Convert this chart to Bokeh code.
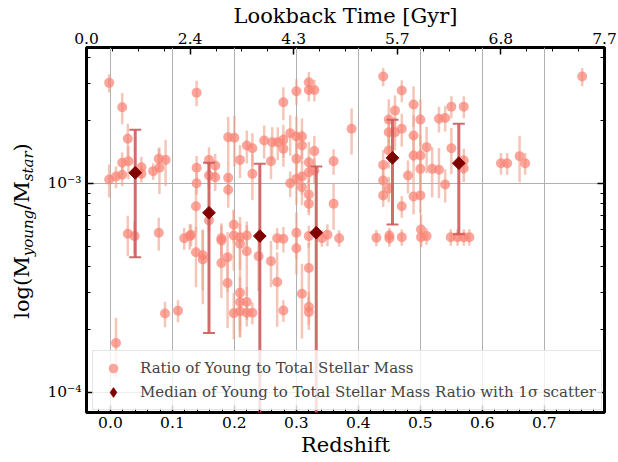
import numpy as np
from bokeh.plotting import figure
from bokeh.layouts import row
from bokeh.models import (Range1d, LinearAxis, LogAxis, FixedTicker, SingleIntervalTicker,
                          PrintfTickFormatter, CustomJSTickFormatter, ColumnDataSource, Legend,
                          LegendItem, Div)
from bokeh.embed import file_html
from bokeh.resources import INLINE

# ---------------- data ----------------
redshift = [-0.002, 0.019, 0.028, 0.019, 0.029, -0.002, 0.009, 0.019, 0.050, 0.050,
            0.069, 0.078, 0.079, 0.089, 0.139, 0.139, 0.139, 0.159, 0.159, 0.169,
            0.169, 0.190, 0.200, 0.190, 0.190, 0.209, 0.220, 0.229, 0.229, 0.248,
            0.261, 0.270, 0.279, 0.279, 0.279, 0.290, 0.290, 0.300, 0.300, 0.300,
            0.300, 0.309, 0.309, 0.309, 0.309, 0.320, 0.320, 0.329, 0.320, 0.320,
            0.320, 0.329, 0.329, 0.259, 0.360, 0.389, 0.440, 0.470, 0.459, 0.489,
            0.449, 0.500, 0.530, 0.540, 0.550, 0.570, 0.449, 0.459, 0.470, 0.489,
            0.449, 0.510, 0.550, 0.489, 0.500, 0.440, 0.480, 0.519, 0.530, 0.500,
            0.540, 0.570, 0.570, 0.440, 0.449, 0.440, 0.489, 0.500, 0.470, 0.630,
            0.640, 0.660, 0.669, 0.761,
            0.009, 0.028, 0.039, 0.078, 0.088, 0.109, 0.119, 0.128, 0.130, 0.138,
            0.138, 0.149, 0.149, 0.159, 0.179, 0.179, 0.179, 0.189, 0.189, 0.199,
            0.199, 0.199, 0.209, 0.209, 0.209, 0.209, 0.209, 0.220, 0.220, 0.220,
            0.220, 0.229, 0.239, 0.269, 0.279, 0.259, 0.269, 0.279, 0.300, 0.300,
            0.309, 0.320, 0.320, 0.320, 0.320, 0.320, 0.350, 0.341, 0.360, 0.369,
            0.429, 0.450, 0.450, 0.470, 0.501, 0.501, 0.510, 0.549, 0.560, 0.570,
            0.579]
log_ratio = [-2.518, -2.635, -2.786, -2.901, -2.893, -2.981, -2.967, -2.958, -2.922, -2.954,
             -2.941, -2.882, -2.925, -2.887, -2.565, -2.925, -2.999, -2.887, -2.962, -2.914,
             -2.970, -2.778, -2.781, -2.973, -3.030, -2.887, -2.818, -2.831, -2.954, -2.794,
             -2.802, -2.802, -2.611, -2.791, -2.834, -2.759, -2.999, -2.558, -2.775, -2.882,
             -2.978, -2.775, -2.818, -2.967, -3.018, -2.515, -2.552, -2.552, -2.898, -2.946,
             -3.053, -2.845, -2.938, -2.893, -2.893, -2.738, -2.488, -2.555, -2.651, -2.622,
             -2.694, -2.694, -2.690, -2.686, -2.632, -2.632, -2.755, -2.755, -2.738, -2.770,
             -2.842, -2.826, -2.831, -2.866, -2.866, -2.911, -2.962, -2.930, -2.934, -2.930,
             -3.005, -2.890, -2.927, -2.986, -3.025, -3.057, -3.062, -3.057, -3.109, -2.903,
             -2.903, -2.869, -2.903, -2.488,
             -3.764, -3.241, -3.252, -3.236, -3.623, -3.609, -3.262, -3.252, -3.245, -3.109,
             -3.329, -3.344, -3.364, -3.177, -3.262, -3.273, -3.381, -3.353, -3.477, -3.198,
             -3.249, -3.621, -3.257, -3.289, -3.523, -3.568, -3.612, -3.249, -3.325, -3.568,
             -3.619, -3.619, -3.348, -3.262, -3.265, -3.372, -3.472, -3.608, -3.236, -3.310,
             -3.528, -3.097, -3.405, -3.592, -3.616, -3.252, -3.245, -3.262, -3.097, -3.262,
             -3.260, -3.249, -3.262, -3.257, -3.220, -3.257, -3.252, -3.257, -3.257, -3.257,
             -3.257]
err_frac = [0.10, 0.17, 0.18, 0.12, 0.18, 0.18, 0.12, 0.12, 0.12, 0.09,
            0.09, 0.12, 0.25, 0.25, 0.14, 0.14, 0.12, 0.15, 0.14, 0.14,
            0.14, 0.25, 0.27, 0.18, 0.18, 0.18, 0.18, 0.18, 0.25, 0.18,
            0.18, 0.18, 0.18, 0.18, 0.18, 0.22, 0.14, 0.14, 0.25, 0.25,
            0.25, 0.22, 0.18, 0.18, 0.18, 0.12, 0.12, 0.12, 0.25, 0.18,
            0.18, 0.18, 0.14, 0.18, 0.14, 0.25, 0.10, 0.12, 0.18, 0.22,
            0.25, 0.25, 0.14, 0.14, 0.12, 0.12, 0.18, 0.18, 0.18, 0.25,
            0.18, 0.25, 0.25, 0.25, 0.25, 0.18, 0.18, 0.27, 0.27, 0.25,
            0.18, 0.14, 0.14, 0.18, 0.14, 0.12, 0.18, 0.18, 0.12, 0.12,
            0.12, 0.25, 0.12, 0.10,
            0.32, 0.22, 0.18, 0.18, 0.14, 0.12, 0.12, 0.14, 0.12, 0.25,
            0.32, 0.32, 0.39, 0.12, 0.18, 0.18, 0.32, 0.32, 0.39, 0.18,
            0.32, 0.25, 0.25, 0.25, 0.39, 0.32, 0.18, 0.12, 0.39, 0.18,
            0.14, 0.12, 0.32, 0.12, 0.14, 0.25, 0.39, 0.12, 0.25, 0.25,
            0.39, 0.12, 0.32, 0.18, 0.18, 0.12, 0.12, 0.09, 0.25, 0.09,
            0.09, 0.09, 0.09, 0.09, 0.18, 0.09, 0.09, 0.09, 0.09, 0.09,
            0.09]

median_z = [0.040, 0.159, 0.241, 0.332, 0.455, 0.562]
median_ratio = [1.125e-3, 7.24e-4, 5.60e-4, 5.81e-4, 1.327e-3, 1.251e-3]
median_sigma = [6.82e-4, 5.32e-4, 6.82e-4, 6.25e-4, 6.91e-4, 6.80e-4]

lookback_labels = ["0.0", "2.4", "4.3", "5.7", "6.8", "7.7"]
y_major = [1e-4, 1e-3]
y_minor = [2e-4, 3e-4, 4e-4, 5e-4, 6e-4, 7e-4, 8e-4, 9e-4, 2e-3, 3e-3, 4e-3]

# ---------------- layout constants ----------------
X0, X1 = -0.0386, 0.797
Y0, Y1 = 8.0e-5, 4.48e-3
W, H = 618, 462
LW = 44                      # strip holding the y-axis title
BL, BR, BT, BB = 40, 14, 47, 50
SERIF = "DejaVu Serif"
TICK_FS = "15.5px"
LABEL_FS = "21px"

ratio = 10 ** np.array(log_ratio)
ef = np.array(err_frac)
src = ColumnDataSource(dict(z=redshift, r=ratio, lo=ratio * (1 - ef), hi=ratio * (1 + ef)))

m = np.array(median_ratio)
s = np.array(median_sigma)
m_lo = np.where(m - s > 0, m - s, 1e-7)
m_hi = m + s
pos = (m - s) > 0
msrc = ColumnDataSource(dict(z=median_z, r=median_ratio, lo=m_lo, hi=m_hi))
capsrc = ColumnDataSource(dict(z=list(np.array(median_z)[pos]), lo=list(m_lo[pos])))

p = figure(width=W - LW, height=H, x_range=Range1d(X0, X1), y_range=Range1d(Y0, Y1),
           y_axis_type="log", output_backend="svg", toolbar_location=None,
           min_border_left=BL, min_border_right=BR, min_border_top=BT, min_border_bottom=BB,
           background_fill_color="white", border_fill_color="white")

# points with error bars
p.segment(x0="z", y0="lo", x1="z", y1="hi", source=src, line_color="#EE9F88",
          line_alpha=0.6, line_width=2.5)
pts = p.scatter("z", "r", source=src, marker="circle", size=10, fill_color="#FA8072",
                fill_alpha=0.7, line_color=None)

# medians
p.segment(x0="z", y0="lo", x1="z", y1="hi", source=msrc, line_color="#CD5C5C",
          line_alpha=0.9, line_width=3)
p.scatter("z", "hi", source=msrc, marker="dash", size=12, line_color="#CD5C5C",
          line_width=2, line_alpha=0.9)
p.scatter("z", "lo", source=capsrc, marker="dash", size=12, line_color="#CD5C5C",
          line_width=2, line_alpha=0.9)
p.scatter("z", "r", source=msrc, marker="square", angle=np.pi / 4, size=9,
          fill_color="#800000", line_color="#800000")
# legend proxy kept outside the visible range
proxy = p.scatter(x=[-10.0], y=[10.0], marker="diamond", size=12, fill_color="#800000",
                  line_color="#800000")

# bottom axis
xa = p.xaxis[0]
xa.ticker = SingleIntervalTicker(interval=0.1, num_minor_ticks=5)
xa.formatter = PrintfTickFormatter(format="%.1f")
xa.axis_label = "Redshift"

# left axis
sup_js = """
const sup = {"-":"\u207b","0":"\u2070","1":"\u00b9","2":"\u00b2","3":"\u00b3","4":"\u2074",
             "5":"\u2075","6":"\u2076","7":"\u2077","8":"\u2078","9":"\u2079"};
const e = Math.round(Math.log10(tick));
return "10" + String(e).split("").map(c => sup[c]).join("");
"""
ya = p.yaxis[0]
ya.ticker = FixedTicker(ticks=y_major, minor_ticks=y_minor)
ya.formatter = CustomJSTickFormatter(code=sup_js)
p.ygrid.ticker = FixedTicker(ticks=y_major)

# right axis (ticks only)
ra = LogAxis(ticker=FixedTicker(ticks=y_major, minor_ticks=y_minor),
             formatter=CustomJSTickFormatter(code="return '';"))
p.add_layout(ra, "right")

# top axis: lookback time
top_ticks = list(np.linspace(X0, X1, 6))
step = (X1 - X0) / 5 / 4
top_minor = [X0 + k * step for k in range(21) if k % 4 != 0]
ta = LinearAxis(ticker=FixedTicker(ticks=top_ticks, minor_ticks=top_minor),
                formatter=CustomJSTickFormatter(args=dict(tpos=top_ticks, tlab=lookback_labels), code="""
let best = 0, bd = Infinity;
for (let i = 0; i < tpos.length; i++) { const d = Math.abs(tpos[i] - tick); if (d < bd) { bd = d; best = i; } }
return tlab[best];
"""), axis_label="Lookback Time [Gyr]")
p.add_layout(ta, "above")

for ax in p.axis:
    ax.axis_line_color = None
    ax.major_tick_in = 7
    ax.major_tick_out = 0
    ax.minor_tick_in = 4
    ax.minor_tick_out = 0
    ax.major_tick_line_color = "black"
    ax.minor_tick_line_color = "black"
    ax.major_tick_line_width = 1.5
    ax.minor_tick_line_width = 1
    ax.major_label_text_font = SERIF
    ax.major_label_text_font_size = TICK_FS
    ax.major_label_text_color = "black"
    ax.major_label_standoff = 4
    ax.axis_label_text_font = SERIF
    ax.axis_label_text_font_size = LABEL_FS
    ax.axis_label_text_font_style = "normal"
    ax.axis_label_text_color = "black"
    ax.axis_label_standoff = 2
ra.major_label_text_font_size = "0px"
ra.major_label_standoff = 0
ya.major_label_standoff = 5

p.outline_line_color = "black"
p.outline_line_width = 3
p.outline_line_alpha = 1

p.xgrid.grid_line_color = "#b0b0b0"
p.xgrid.grid_line_width = 1
p.ygrid.grid_line_color = "#b0b0b0"
p.ygrid.grid_line_width = 1

legend = Legend(items=[LegendItem(label="Ratio of Young to Total Stellar Mass", renderers=[pts]),
                       LegendItem(label="Median of Young to Total Stellar Mass Ratio with 1σ scatter",
                                  renderers=[proxy])],
                location=(6, 2), glyph_width=30, glyph_height=24, label_standoff=12,
                padding=5, spacing=0, margin=0, label_text_font=SERIF, label_text_font_size="15px",
                border_line_color="#cccccc", border_line_width=1, background_fill_alpha=0.8)
p.add_layout(legend)

# ---------------- y-axis title (HTML text with real subscripts) ----------------
sub_style = "font-style:italic;font-size:15px;vertical-align:-0.3em;line-height:0;"
ylabel_html = (
    f'<div style="position:relative;width:{LW}px;height:{H}px;">'
    f'<div style="position:absolute;left:22px;top:231px;transform:translate(-50%,-50%) rotate(-90deg);'
    f"white-space:nowrap;font-family:'{SERIF}';font-size:21px;color:black;line-height:1;\">"
    f'log(M<span style="{sub_style}">young</span>/M<span style="{sub_style}">star</span>)'
    '</div></div>'
)
ylab = Div(text=ylabel_html, width=LW, height=H, margin=0)

layout = row(ylab, p, spacing=0)
open("out.html", "w").write(file_html(layout, INLINE))
